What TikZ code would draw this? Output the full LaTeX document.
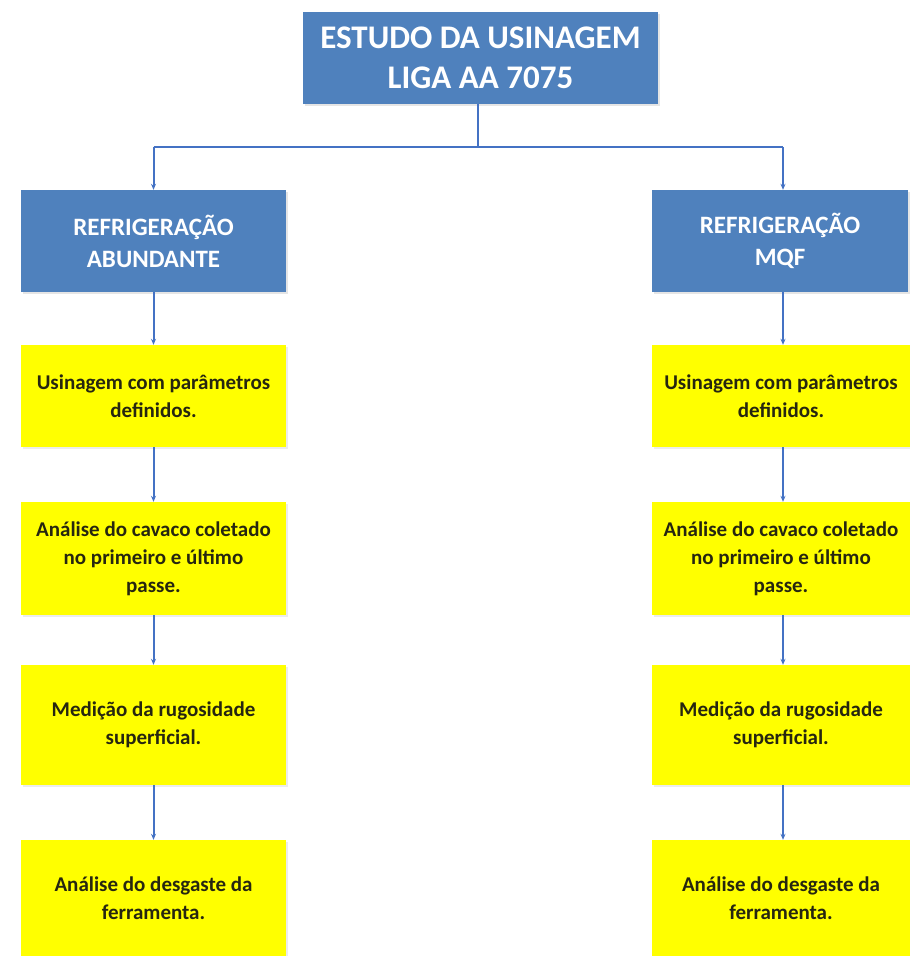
\documentclass[tikz,border=0pt]{standalone}
\usepackage{fontspec}
\setmainfont{Carlito}
\usetikzlibrary{arrows.meta,shadows}
\definecolor{boxblue}{HTML}{4F81BD}
\definecolor{lineblue}{HTML}{4472C4}
\definecolor{boxyellow}{HTML}{FFFF00}
\definecolor{darktext}{HTML}{262610}
\tikzset{
  bluebox/.style={draw=none, fill=boxblue, text=white, font=\bfseries\fontsize{25}{32}\selectfont,
    align=center, inner sep=0pt, drop shadow={opacity=0.2, shadow xshift=1.5pt, shadow yshift=-1.5pt}},
  topbox/.style={bluebox, font=\bfseries\fontsize{33}{40}\selectfont},
  yellowbox/.style={draw=none, fill=boxyellow, text=darktext, font=\bfseries\fontsize{21}{28}\selectfont,
    align=center, inner sep=0pt, drop shadow={opacity=0.15, shadow xshift=1.5pt, shadow yshift=-1.5pt}},
  conn/.style={draw=lineblue, line width=2pt},
  arr/.style={conn, -{Stealth[length=6pt,width=5pt]}}
}
\begin{document}
\begin{tikzpicture}[x=1pt,y=-1pt]
\useasboundingbox[fill=white] (0,0) rectangle (910,956);
\node[topbox, minimum width=355pt, minimum height=92pt] (top) at (480.5,58) {ESTUDO DA USINAGEM\\LIGA AA 7075};
\node[bluebox, minimum width=265pt, minimum height=102pt] (lb) at (153.5,241) {REFRIGERAÇÃO\\ABUNDANTE};
\node[bluebox, minimum width=256pt, minimum height=102pt] (rb) at (780,241) {REFRIGERAÇÃO\\MQF};
% left column
\node[yellowbox, minimum width=265pt, minimum height=102pt] (l1) at (153.5,396) {Usinagem com parâmetros\\definidos.};
\node[yellowbox, minimum width=265pt, minimum height=113pt] (l2) at (153.5,558.5) {Análise do cavaco coletado\\no primeiro e último\\passe.};
\node[yellowbox, minimum width=265pt, minimum height=120pt] (l3) at (153.5,725) {Medição da rugosidade\\superficial.};
\node[yellowbox, minimum width=265pt, minimum height=116pt] (l4) at (153.5,898) {Análise do desgaste da\\ferramenta.};
% right column
\node[yellowbox, minimum width=258pt, minimum height=102pt] (r1) at (781,396) {Usinagem com parâmetros\\definidos.};
\node[yellowbox, minimum width=258pt, minimum height=113pt] (r2) at (781,558.5) {Análise do cavaco coletado\\no primeiro e último\\passe.};
\node[yellowbox, minimum width=258pt, minimum height=120pt] (r3) at (781,725) {Medição da rugosidade\\superficial.};
\node[yellowbox, minimum width=258pt, minimum height=116pt] (r4) at (781,898) {Análise do desgaste da\\ferramenta.};
% connectors
\coordinate (j) at (478,147);
\coordinate (jl) at (153.5,147);
\coordinate (jr) at (783,147);
\draw[conn] (top.south -| j) -- (j);
\draw[conn] (jl) -- (jr);
\draw[arr] (jl) -- (lb.north);
\draw[arr] (jr) -- (rb.north -| jr);
\draw[arr] (lb.south) -- (l1.north);
\draw[arr] (l1.south) -- (l2.north);
\draw[arr] (l2.south) -- (l3.north);
\draw[arr] (l3.south) -- (l4.north);
\draw[arr] (rb.south -| jr) -- (r1.north -| jr);
\draw[arr] (r1.south -| jr) -- (r2.north -| jr);
\draw[arr] (r2.south -| jr) -- (r3.north -| jr);
\draw[arr] (r3.south -| jr) -- (r4.north -| jr);
\end{tikzpicture}
\end{document}
